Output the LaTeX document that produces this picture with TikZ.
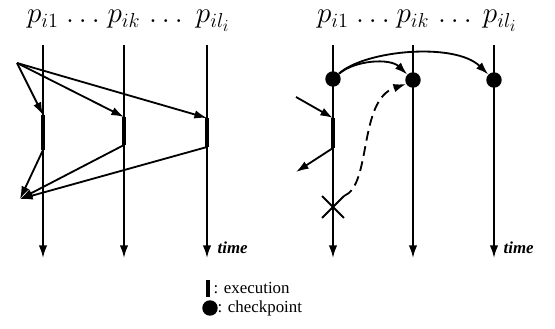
\documentclass[tikz,border=0pt]{standalone}
\usepackage{fontspec}
\setmainfont{Liberation Serif}
\usetikzlibrary{arrows.meta,shapes.misc}
\begin{document}
\begin{tikzpicture}[
x=0.025cm, y=-0.025cm,
proc/.style={line width=1.3pt, -{Latex[length=9pt,width=6pt]}},
msg/.style={line width=1.3pt, -{Latex[length=9pt,width=6pt]}},
exec/.style={line width=2.4pt},
ckpt/.style={circle, fill, inner sep=0pt, minimum size=11pt},
lbl/.style={font=\huge, inner sep=0pt, anchor=base},
timelbl/.style={font=\large\bfseries\itshape, anchor=west, inner sep=1pt},
legend/.style={font=\large, anchor=west, inner sep=1pt}
]
\useasboundingbox (0,0) rectangle (555,329);
% left: before checkpointing
\foreach \n/\x in {a1/43,ak/124,al/207}{
\coordinate (\n top) at (\x,45);
\coordinate (\n bot) at (\x,258);
\draw[proc] (\n top) -- (\n bot);
}
\node[lbl] (la1) at (43,23) {$p_{i1}$};
\node[lbl] (lak) at (124,23) {$p_{ik}$};
\node[lbl] (lal) at (213,23) {$p_{il_i}$};
\node[lbl] (ld1) at (83,23) {$\ldots$};
\node[lbl] (ld2) at (166,23) {$\ldots$};
\node[timelbl] (t1) at (216,248) {time};
\coordinate (src) at (17,63);
\coordinate (dst) at (20,199);
\coordinate (a1s) at (43,115);
\coordinate (a1e) at (43,150);
\coordinate (aks) at (124,117);
\coordinate (ake) at (124,145);
\coordinate (als) at (207,118);
\coordinate (ale) at (207,147);
\draw[exec] (a1s) -- (a1e);
\draw[exec] (aks) -- (ake);
\draw[exec] (als) -- (ale);
\draw[msg] (src) -- (a1s);
\draw[msg] (src) -- (aks);
\draw[msg] (src) -- (als);
\draw[msg] (a1e) -- (dst);
\draw[msg] (ake) -- (dst);
\draw[msg] (ale) -- (dst);
% right: checkpoint and recovery
\foreach \n/\x in {b1/333,bk/413,bl/494}{
\coordinate (\n top) at (\x,45);
\coordinate (\n bot) at (\x,258);
\draw[proc] (\n top) -- (\n bot);
}
\node[lbl] (lb1) at (333,23) {$p_{i1}$};
\node[lbl] (lbk) at (413,23) {$p_{ik}$};
\node[lbl] (lbl) at (500,23) {$p_{il_i}$};
\node[lbl] (le1) at (373,23) {$\ldots$};
\node[lbl] (le2) at (455,23) {$\ldots$};
\node[timelbl] (t2) at (502,248) {time};
\node[ckpt] (c1) at (333,79) {};
\node[ckpt] (ck) at (413,80) {};
\node[ckpt] (cl) at (494,80) {};
\draw[msg] (c1) .. controls (355,60) and (390,58) .. (ck);
\draw[msg] (c1) .. controls (365,50) and (455,42) .. (cl);
\coordinate (in) at (296,97);
\coordinate (out) at (296,172);
\coordinate (b1s) at (333,118);
\coordinate (b1e) at (333,148);
\draw[exec] (b1s) -- (b1e);
\draw[msg] (in) -- (b1s);
\draw[msg] (b1e) -- (out);
\node[cross out, draw, line width=1.3pt, minimum size=20*0.025cm, inner sep=0pt] (fail) at (333,207) {};
\draw[msg, dash pattern=on 7pt off 4pt] (fail.north east) .. controls (372,185) and (358,100) .. (ck.210);
% legend
\coordinate (ex1) at (208,280);
\coordinate (ex2) at (208,297);
\draw[exec] (ex1) -- (ex2);
\node[legend] (lexec) at (212,288) {: execution};
\node[ckpt, minimum size=11pt] (lc) at (210,308) {};
\node[legend] (lckpt) at (216,308) {: checkpoint};
\end{tikzpicture}
\end{document}
